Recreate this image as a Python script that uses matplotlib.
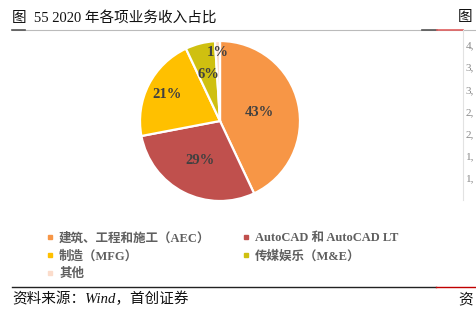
import numpy as np
import matplotlib.pyplot as plt
from matplotlib.lines import Line2D

plt.rcParams['font.family'] = ['Liberation Serif', 'Noto Sans CJK SC']

# 数据
segments = ['建筑、工程和施工（AEC）', 'AutoCAD 和 AutoCAD LT', '制造（MFG）',
            '传媒娱乐（M&E）', '其他']
shares = [43, 29, 21, 6, 1]
colors = ['#F79646', '#C0504D', '#FFC000', '#CFC010', '#FBDCCB']
label_dist = [0.5, 0.55, 0.74, 0.6, 0.86]
right_ticks = ['4,', '3,', '3,', '2,', '2,', '1,', '1,']

W, H = 476, 312
fig = plt.figure(figsize=(W / 100, H / 100), dpi=100)

def fx(px):
    return px / W

def fy(py):
    return 1 - py / H

# 饼图
cx, cy, r = 220, 121, 80
ax = fig.add_axes([fx(cx - r), fy(cy + r), 2 * r / W, 2 * r / H])
wedges, _ = ax.pie(shares, colors=colors, startangle=90, counterclock=False,
                   wedgeprops=dict(edgecolor='white', linewidth=1.6))
ax.set_xlim(-1, 1)
ax.set_ylim(-1, 1)
ax.set_aspect('auto')
ax.axis('off')

for w, v, d in zip(wedges, shares, label_dist):
    mid = np.deg2rad((w.theta1 + w.theta2) / 2)
    ax.text(d * np.cos(mid), d * np.sin(mid), f'{v}%', ha='center', va='center',
            fontsize=10.5, fontweight='bold', color='#404040')

# 标题与线
fig.text(fx(12), fy(18), '图  55 2020 年各项业务收入占比', fontsize=10.5,
         ha='left', va='center', color='#111111')
fig.text(fx(458), fy(18), '图', fontsize=10.5, ha='left', va='center', color='#111111')
fig.add_artist(Line2D([fx(12), fx(476)], [fy(30), fy(30)], color='#BBBBBB', lw=0.8))
fig.add_artist(Line2D([fx(12), fx(25)], [fy(30), fy(30)], color='#555555', lw=1.2))
fig.add_artist(Line2D([fx(422), fx(437)], [fy(30), fy(30)], color='#555555', lw=1.2))
fig.add_artist(Line2D([fx(437), fx(463)], [fy(30), fy(30)], color='#E06060', lw=1.2))
fig.add_artist(Line2D([fx(463), fx(463)], [fy(30), fy(200)], color='#E2E2E2', lw=0.8))

for i, t in enumerate(right_ticks):
    fig.text(fx(466), fy(46 + i * 22.2), t, fontsize=8, ha='left', va='center',
             color='#888888')

# 图例
handles = [Line2D([], [], marker='s', color=c, linestyle='', markersize=3.5)
           for c in colors]
order = [0, 2, 4, 1, 3]
leg = fig.legend([handles[i] for i in order], [segments[i] for i in order],
                 loc='upper left', bbox_to_anchor=(fx(41), fy(226)), ncol=2,
                 frameon=False, handlelength=0.5, handletextpad=0.45,
                 columnspacing=2.6, labelspacing=0.45, borderpad=0,
                 prop=dict(weight='bold', size=9))
for t in leg.get_texts():
    t.set_color('#5F5F5F')

# 底部线与来源
fig.add_artist(Line2D([fx(12), fx(436)], [fy(287), fy(287)], color='#222222', lw=1.0))
fig.add_artist(Line2D([fx(436), fx(476)], [fy(287), fy(287)], color='#C00000', lw=1.0))
fig.text(fx(12), fy(299), '资料来源：Wind，首创证券', fontsize=10.5, style='italic',
         ha='left', va='center', color='#111111')
fig.text(fx(458), fy(299), '资', fontsize=10.5, style='italic', ha='left', va='center',
         color='#111111')

plt.savefig('out.png', dpi=100)
